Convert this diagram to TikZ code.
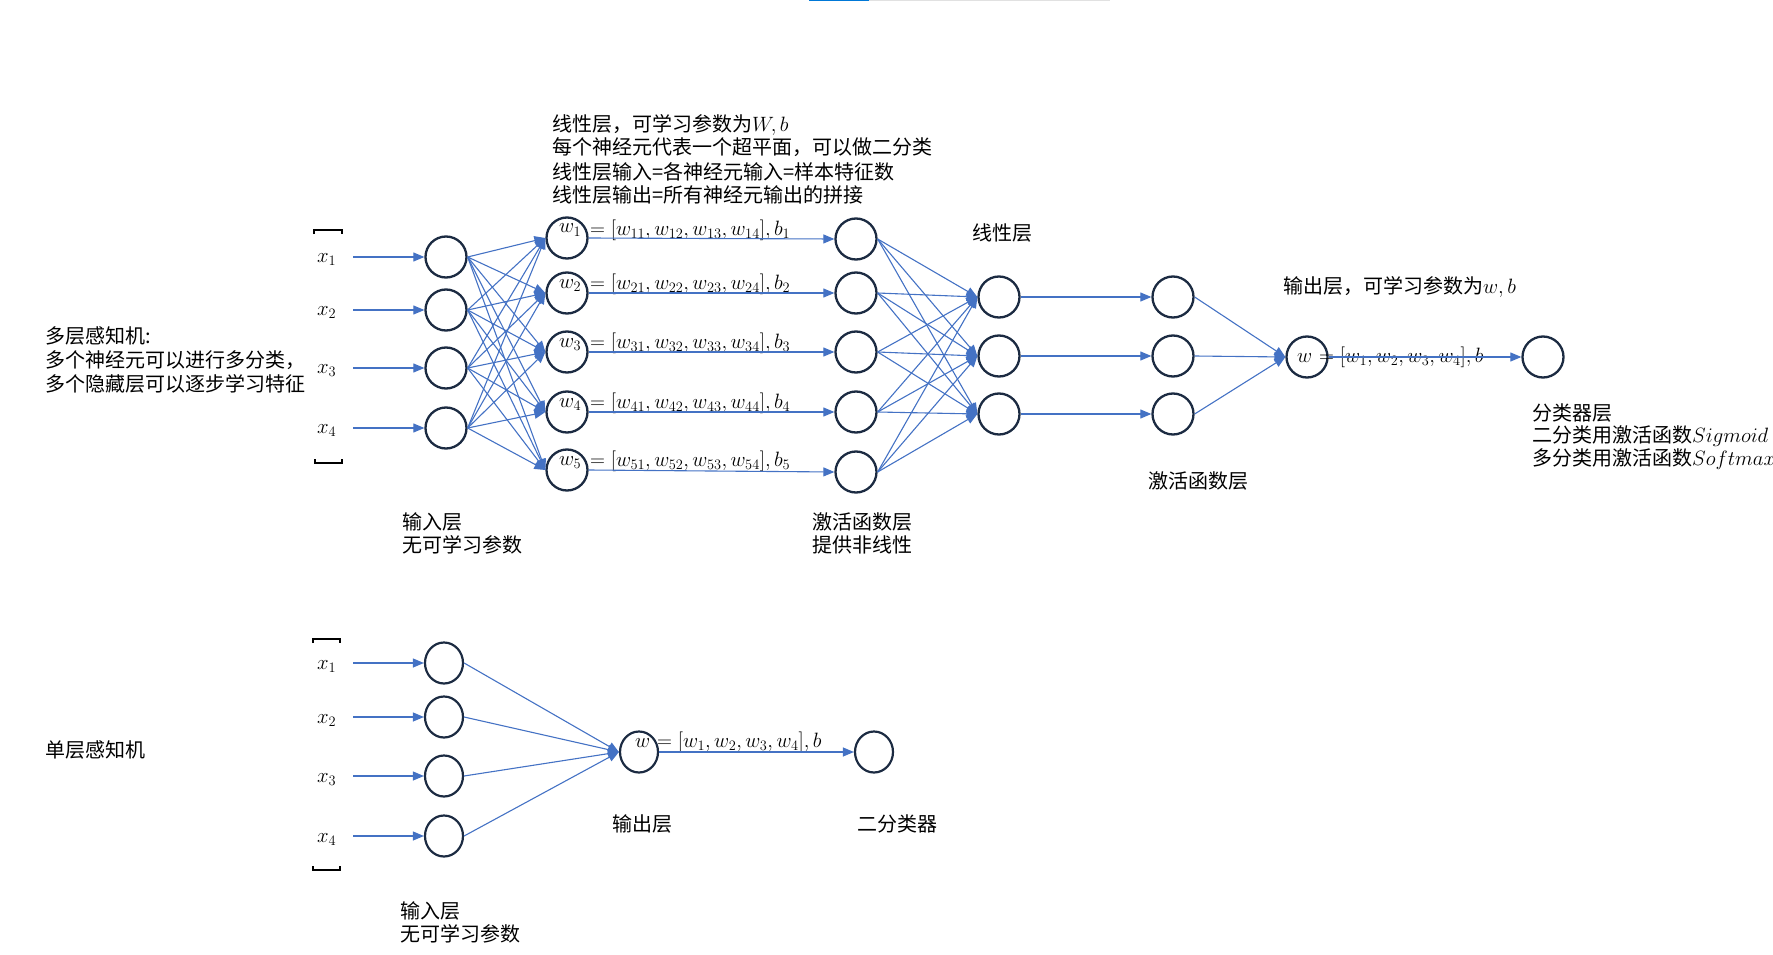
\documentclass[tikz,border=0pt]{standalone}
\usepackage{fontspec}
\newfontfamily\cjk{Noto Sans CJK SC}
\usetikzlibrary{arrows.meta,shapes.geometric}
\definecolor{lblue}{HTML}{4472C4}
\definecolor{ndark}{HTML}{1C2B42}
\definecolor{barblue}{HTML}{0078D7}
\definecolor{bargray}{HTML}{E1E1E1}
\begin{document}
\begin{tikzpicture}[x=1pt,y=-1pt,
  neuron/.style={circle,draw=ndark,line width=2.3pt,minimum size=41pt,inner sep=0pt},
  eneuron/.style={ellipse,draw=ndark,line width=2.2pt,minimum width=38pt,minimum height=41pt,inner sep=0pt},
  conn/.style={draw=lblue,line width=1.1pt,-{Triangle[length=11pt,width=9pt]}},
  lbl/.style={anchor=base west,inner sep=0pt,align=left},
  cbig/.style={lbl,font=\cjk\fontsize{20}{24}\selectfont},
  cmid/.style={lbl,font=\cjk\fontsize{20}{23}\selectfont},
  m20/.style={lbl,font=\fontsize{20.7}{24}\selectfont},
  brk/.style={draw=black,line width=2pt}]
\useasboundingbox (0,0) rectangle (1773,955);
% top bar
\fill[barblue] (809,0) rectangle (869,1.5);
\fill[bargray] (869,0) rectangle (1110,1.5);

% ===== multilayer perceptron =====
\draw[brk] (314,234) -- (314,230) -- (342,230) -- (342,234);
\draw[brk] (315,459) -- (315,463) -- (342,463) -- (342,459);
\foreach \k/\y in {1/257,2/310,3/368,4/428}{
  \node[neuron] (i\k) at (446,\y) {};
  \node[m20] (xl\k) at (317,\y+5) {$x_{\k}$};
  \coordinate (xs\k) at (353,\y);
}
\foreach \k/\y in {1/238,2/293,3/352,4/412,5/470}{
  \node[neuron] (h\k) at (567,\y) {};
  \node[m20] (wl\k) at (559,\y-5) {$w_{\k}$};
}
\foreach \k/\y in {1/239,2/293,3/352,4/412,5/472}{
  \node[neuron] (a\k) at (856,\y) {};
}
\foreach \k/\y in {1/297,2/356,3/414}{
  \node[neuron] (l\k) at (999,\y) {};
  \node[neuron] (s\k) at (1173,\y) {};
}
\node[neuron] (o) at (1307,357) {};
\node[neuron] (f) at (1543,357) {};

\node[m20] (e1) at (590,235) {$= [w_{11},w_{12},w_{13},w_{14}],b_1$};
\node[m20] (e2) at (590,289) {$= [w_{21},w_{22},w_{23},w_{24}],b_2$};
\node[m20] (e3) at (590,348) {$= [w_{31},w_{32},w_{33},w_{34}],b_3$};
\node[m20] (e4) at (590,408) {$= [w_{41},w_{42},w_{43},w_{44}],b_4$};
\node[m20] (e5) at (590,466) {$= [w_{51},w_{52},w_{53},w_{54}],b_5$};
\node[m20] (wo) at (1297,362) {$w$};
\node[m20] (eo) at (1319,362) {$= [w_1,w_2,w_3,w_4],b$};

\foreach \k in {1,...,4}{ \draw[conn] (xs\k) -- (i\k.west); }
\foreach \k in {1,...,4}{
  \foreach \j in {1,...,5}{ \draw[conn] (i\k.east) -- (h\j.west); }
}
\foreach \k in {1,...,5}{ \draw[conn] (h\k.east) -- (a\k.west); }
\foreach \k in {1,...,5}{
  \foreach \j in {1,...,3}{ \draw[conn] (a\k.east) -- (l\j.west); }
}
\foreach \k in {1,...,3}{
  \draw[conn] (l\k.east) -- (s\k.west);
  \draw[conn] (s\k.east) -- (o.west);
}
\draw[conn] (o.east) -- (f.west);

% (multi-line text: anchor at the baseline of the last line)
\node[cbig] (t1) at (552,203) {线性层，可学习参数为$W,b$\\每个神经元代表一个超平面，可以做二分类\\线性层输入=各神经元输入=样本特征数\\线性层输出=所有神经元输出的拼接};
\node[cbig] (t2) at (45,391) {多层感知机:\\多个神经元可以进行多分类，\\多个隐藏层可以逐步学习特征};
\node[cmid] (t3) at (402,552) {输入层\\无可学习参数};
\node[cmid] (t4) at (812,552) {激活函数层\\提供非线性};
\node[cbig] (t5) at (972,240) {线性层};
\node[cbig] (t6) at (1148,488) {激活函数层};
\node[cbig] (t7) at (1283,293) {输出层，可学习参数为$w,b$};
\node[cbig,font=\cjk\fontsize{20}{22.5}\selectfont] (t8) at (1532,465) {分类器层\\二分类用激活函数$Sigmoid$\\多分类用激活函数$Softmax$};

% ===== single layer perceptron =====
\draw[brk] (313,643) -- (313,639) -- (340,639) -- (340,643);
\draw[brk] (313,866) -- (313,870) -- (340,870) -- (340,866);
\foreach \k/\y in {1/663,2/717,3/776,4/836}{
  \node[eneuron] (li\k) at (444,\y) {};
  \node[m20] (lxl\k) at (317,\y+6) {$x_{\k}$};
  \coordinate (lxs\k) at (353,\y);
}
\node[eneuron] (lo) at (639,752) {};
\node[eneuron] (lf) at (874,752) {};
\node[m20] (lwo) at (635,747) {$w$};
\node[m20] (leo) at (657,747) {$= [w_1,w_2,w_3,w_4],b$};
\foreach \k in {1,...,4}{
  \draw[conn] (lxs\k) -- (li\k.west);
  \draw[conn] (li\k.east) -- (lo.west);
}
\draw[conn] (lo.east) -- (lf.west);

\node[cbig] (u1) at (45,757) {单层感知机};
\node[cbig] (u2) at (612,831) {输出层};
\node[cbig] (u3) at (857,831) {二分类器};
\node[cmid] (u4) at (400,941) {输入层\\无可学习参数};
\end{tikzpicture}
\end{document}
